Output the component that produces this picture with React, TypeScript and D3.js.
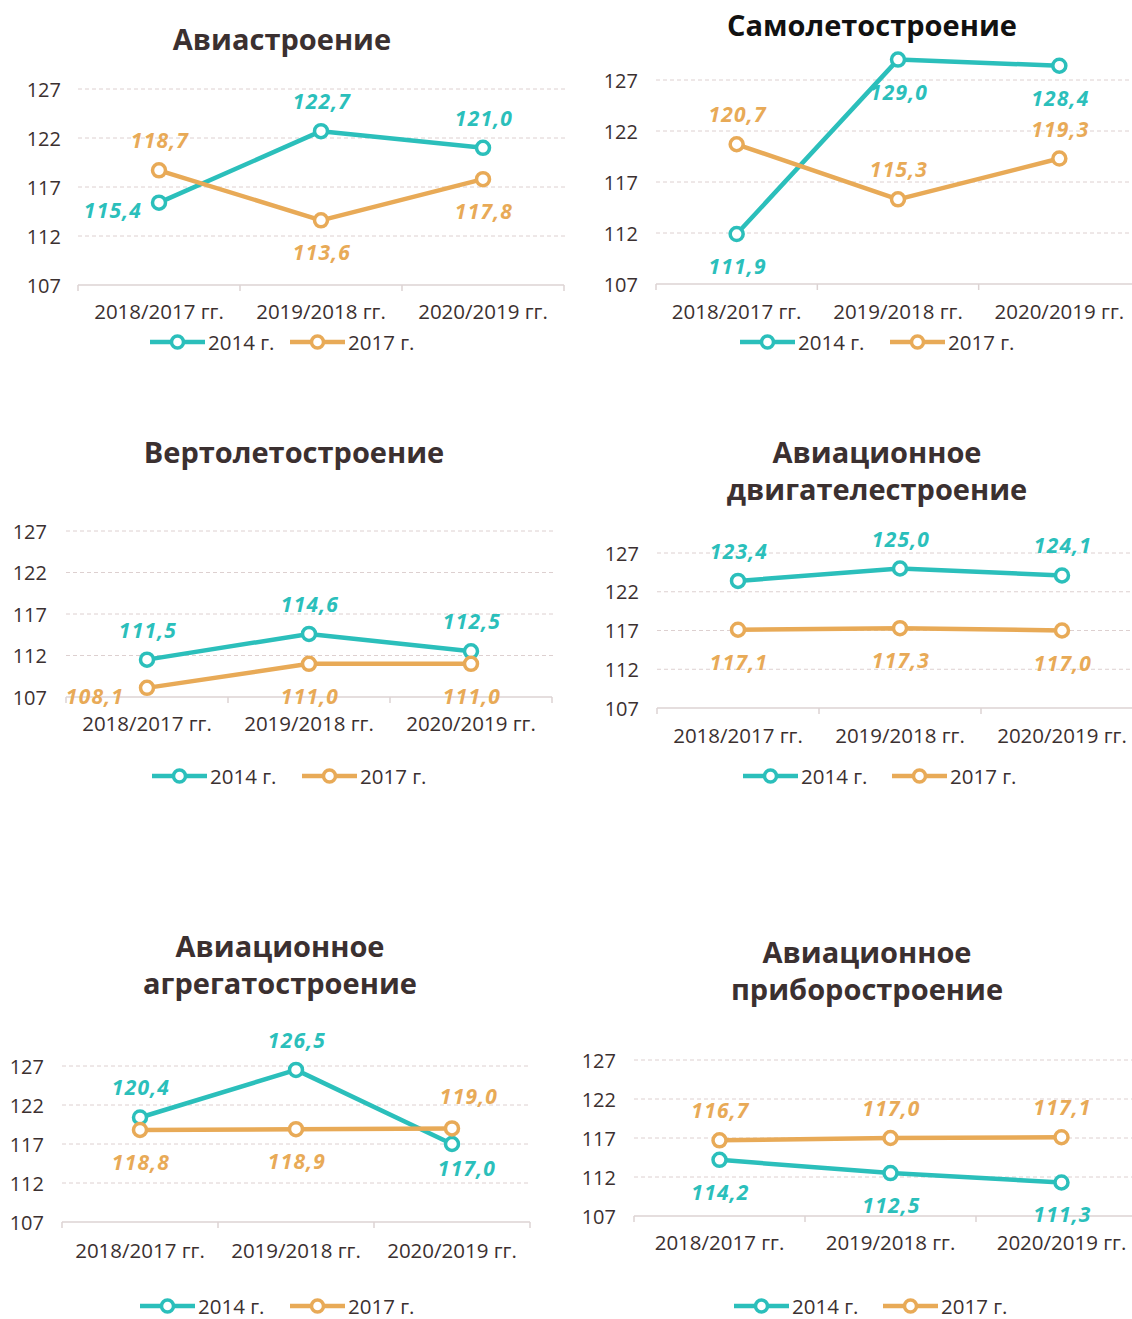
import * as d3 from 'd3'

const CATEGORIES = ['2018/2017 гг.', '2019/2018 гг.', '2020/2019 гг.']
const SERIES_NAMES = ['2014 г.', '2017 г.']
const Y_TICKS = [107, 112, 117, 122, 127]

const AVIA_2014 = [115.4, 122.7, 121.0]
const AVIA_2017 = [118.7, 113.6, 117.8]
const PLANES_2014 = [111.9, 129.0, 128.4]
const PLANES_2017 = [120.7, 115.3, 119.3]
const HELI_2014 = [111.5, 114.6, 112.5]
const HELI_2017 = [108.1, 111.0, 111.0]
const ENGINES_2014 = [123.4, 125.0, 124.1]
const ENGINES_2017 = [117.1, 117.3, 117.0]
const UNITS_2014 = [120.4, 126.5, 117.0]
const UNITS_2017 = [118.8, 118.9, 119.0]
const INSTR_2014 = [114.2, 112.5, 111.3]
const INSTR_2017 = [116.7, 117.0, 117.1]

const TEAL = '#2bbfbb'
const ORANGE = '#e8aa57'
const TEXT = '#3b3030'
const GRID = '#ddd0d0'
const FONT = '"Open Sans", "Noto Sans", sans-serif'

type Place = 'above' | 'below' | 'left' | 'farLeft' | 'belowRight' | 'aboveRight'

type Panel = {
  title: string[]
  titleColor: string
  titleX: number
  titleY: number[]
  x0: number
  x1: number
  gridEnd: number
  yTop: number
  yBottom: number
  yLabelX: number
  catY: number
  legendY: number
  legendX: number[]
  values: number[][]
  places: Place[][]
}

const PANELS: Panel[] = [
  {
    title: ['Авиастроение'], titleColor: '#3b3030', titleX: 282, titleY: [38],
    x0: 78, x1: 564, gridEnd: 565, yTop: 89, yBottom: 285, yLabelX: 61,
    catY: 311, legendY: 342, legendX: [150, 290],
    values: [AVIA_2014, AVIA_2017],
    places: [['left', 'above', 'above'], ['above', 'below', 'below']],
  },
  {
    title: ['Самолетостроение'], titleColor: '#111111', titleX: 872, titleY: [24],
    x0: 656, x1: 1140, gridEnd: 1132, yTop: 80, yBottom: 284, yLabelX: 638,
    catY: 311, legendY: 342, legendX: [740, 890],
    values: [PLANES_2014, PLANES_2017],
    places: [['below', 'below', 'below'], ['above', 'above', 'above']],
  },
  {
    title: ['Вертолетостроение'], titleColor: '#3b3030', titleX: 294, titleY: [451],
    x0: 66, x1: 552, gridEnd: 553, yTop: 531, yBottom: 697, yLabelX: 47,
    catY: 723, legendY: 776, legendX: [152, 302],
    values: [HELI_2014, HELI_2017],
    places: [['above', 'above', 'above'], ['farLeft', 'below', 'below']],
  },
  {
    title: ['Авиационное', 'двигателестроение'], titleColor: '#3b3030', titleX: 877, titleY: [451, 488],
    x0: 657, x1: 1143, gridEnd: 1132, yTop: 553, yBottom: 708, yLabelX: 639,
    catY: 735, legendY: 776, legendX: [743, 892],
    values: [ENGINES_2014, ENGINES_2017],
    places: [['above', 'above', 'above'], ['below', 'below', 'below']],
  },
  {
    title: ['Авиационное', 'агрегатостроение'], titleColor: '#3b3030', titleX: 280, titleY: [945, 982],
    x0: 62, x1: 530, gridEnd: 530, yTop: 1066, yBottom: 1222, yLabelX: 44,
    catY: 1250, legendY: 1306, legendX: [140, 290],
    values: [UNITS_2014, UNITS_2017],
    places: [['above', 'above', 'belowRight'], ['below', 'below', 'aboveRight']],
  },
  {
    title: ['Авиационное', 'приборостроение'], titleColor: '#3b3030', titleX: 867, titleY: [951, 988],
    x0: 634, x1: 1147, gridEnd: 1132, yTop: 1060, yBottom: 1216, yLabelX: 616,
    catY: 1242, legendY: 1306, legendX: [734, 883],
    values: [INSTR_2014, INSTR_2017],
    places: [['below', 'below', 'below'], ['above', 'above', 'above']],
  },
]

const COLORS = [TEAL, ORANGE]

const OFFSET: Record<Place, [number, number]> = {
  above: [1, -30],
  below: [1, 32],
  left: [-46, 7],
  farLeft: [-52, 8],
  belowRight: [15, 24],
  aboveRight: [17, -32],
}

const fmt = (v: number) => v.toFixed(1).replace('.', ',')

function LinePanel({ p }: { p: Panel }) {
  const x = d3.scaleBand<string>().domain(CATEGORIES).range([p.x0, p.x1]).padding(0)
  const y = d3.scaleLinear().domain([107, 127]).range([p.yBottom, p.yTop])
  const cx = (c: string) => (x(c) ?? 0) + x.bandwidth() / 2
  const line = d3.line<number>()
    .x((_, i) => cx(CATEGORIES[i]))
    .y(d => y(d))
  const ticksX = [...CATEGORIES.map(c => x(c) ?? 0), p.x1]

  return (
    <g>
      {p.title.map((t, i) => (
        <text key={t} x={p.titleX} y={p.titleY[i]} textAnchor="middle" dominantBaseline="central"
          fill={p.titleColor} fontSize={29} fontWeight={700} fontFamily={FONT}>{t}</text>
      ))}

      {/* grid */}
      {Y_TICKS.filter(t => t !== 107).map(t => (
        <line key={t} x1={p.x0} x2={p.gridEnd} y1={y(t)} y2={y(t)}
          stroke={GRID} strokeWidth={1} strokeDasharray="4,3" />
      ))}
      {Y_TICKS.map(t => (
        <text key={t} x={p.yLabelX} y={y(t)} textAnchor="end" dominantBaseline="central"
          fill={TEXT} fontSize={20} fontFamily={FONT}>{t}</text>
      ))}

      {/* x axis */}
      <line x1={p.x0} x2={Math.min(p.x1, 1132)} y1={y(107)} y2={y(107)} stroke="#dcd3d3" strokeWidth={1.5} />
      {ticksX.filter(t => t <= 1132).map(t => (
        <line key={t} x1={t} x2={t} y1={y(107)} y2={y(107) + 6} stroke="#dcd3d3" strokeWidth={1.5} />
      ))}
      {CATEGORIES.map(c => (
        <text key={c} x={cx(c)} y={p.catY} textAnchor="middle" dominantBaseline="central"
          fill={TEXT} fontSize={20.5} fontFamily={FONT}>{c}</text>
      ))}

      {/* series */}
      {p.values.map((vals, si) => (
        <g key={si}>
          <path d={line(vals) ?? ''} fill="none" stroke={COLORS[si]} strokeWidth={4.5} strokeLinejoin="round" />
          {vals.map((v, i) => (
            <circle key={i} cx={cx(CATEGORIES[i])} cy={y(v)} r={6.5}
              fill="#fff" stroke={COLORS[si]} strokeWidth={3.5} />
          ))}
        </g>
      ))}
      {p.values.map((vals, si) => vals.map((v, i) => {
        const [dx, dy] = OFFSET[p.places[si][i]]
        return (
          <text key={`${si}-${i}`} x={cx(CATEGORIES[i]) + dx} y={y(v) + dy}
            textAnchor="middle" dominantBaseline="central" fill={COLORS[si]}
            fontSize={21} fontWeight={700} fontStyle="italic" letterSpacing={1.2}
            fontFamily={FONT}>{fmt(v)}</text>
        )
      }))}

      {/* legend */}
      {SERIES_NAMES.map((name, si) => {
        const lx = p.legendX[si]
        return (
          <g key={name}>
            <line x1={lx} x2={lx + 55} y1={p.legendY} y2={p.legendY} stroke={COLORS[si]} strokeWidth={4.5} />
            <circle cx={lx + 27.5} cy={p.legendY} r={6} fill="#fff" stroke={COLORS[si]} strokeWidth={3.5} />
            <text x={lx + 58} y={p.legendY} dominantBaseline="central" fill={TEXT}
              fontSize={20.5} fontFamily={FONT}>{name}</text>
          </g>
        )
      })}
    </g>
  )
}

export default function App() {
  return (
    <div style={{ position: 'absolute', left: 0, top: 0 }}>
      <svg width={1132} height={1319} style={{ display: 'block', background: '#fff' }}>
        {PANELS.map((p, i) => <LinePanel key={i} p={p} />)}
      </svg>
    </div>
  )
}
